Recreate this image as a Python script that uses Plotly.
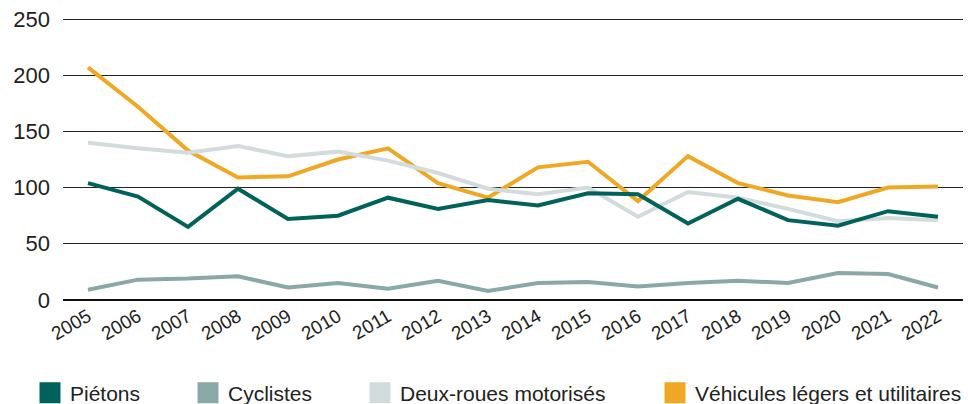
import plotly.graph_objects as go

years = [str(y) for y in range(2005, 2023)]
pietons = [104, 92, 65, 99, 72, 75, 91, 81, 89, 84, 95, 94, 68, 90, 71, 66, 79, 74]
cyclistes = [9, 18, 19, 21, 11, 15, 10, 17, 8, 15, 16, 12, 15, 17, 15, 24, 23, 11]
deux_roues = [140, 135, 131, 137, 128, 132, 124, 113, 99, 94, 100, 74, 96, 91, 81, 70, 73, 71]
vehicules = [207, 172, 133, 109, 110, 125, 135, 104, 91, 118, 123, 88, 128, 104, 93, 87, 100, 101]

series = [
    ("Piétons", pietons, "#00625A"),
    ("Cyclistes", cyclistes, "#8AA8A6"),
    ("Deux-roues motorisés", deux_roues, "#D2DCDC"),
    ("Véhicules légers et utilitaires", vehicules, "#F0A824"),
]
# left edge (px) of each legend entry
legend_left = [30, 188, 360, 655]
y_ticks = [0, 50, 100, 150, 200, 250]

FONT = "Arial, Liberation Sans, sans-serif"

fig = go.Figure()
# lines: last series at the bottom, pedestrians on top
for name, vals, color in reversed(series):
    fig.add_trace(go.Scatter(
        x=years, y=vals, mode="lines", name=name, showlegend=False,
        line=dict(color=color, width=4), hoverinfo="x+y+name",
    ))

# one single-entry legend per series, each with a square swatch
layout_legends = {}
for i, (name, vals, color) in enumerate(series):
    key = "legend" if i == 0 else f"legend{i + 1}"
    fig.add_trace(go.Scatter(
        x=[None], y=[None], mode="markers", name=name, legend=key,
        marker=dict(symbol="square", size=16, color=color,
                    line=dict(color=color, width=5)),
    ))
    layout_legends[key] = dict(
        x=legend_left[i] / 968, xref="container", xanchor="left",
        y=(404 - 393) / 404, yref="container", yanchor="middle",
        orientation="h", bgcolor="rgba(0,0,0,0)",
        font=dict(family=FONT, size=21, color="#222"),
    )

fig.update_layout(
    width=968, height=404,
    margin=dict(l=63, r=5, t=18, b=103),
    paper_bgcolor="white", plot_bgcolor="white",
    font=dict(family=FONT, color="#222"),
    **layout_legends,
)
fig.update_xaxes(
    type="category", range=[-0.5, 17.5], tickangle=-30,
    tickfont=dict(size=19, color="#222"), showgrid=False, showline=False,
    ticks="", zeroline=False,
)
fig.update_yaxes(
    range=[-1, 251], tickvals=y_ticks, tickfont=dict(size=22, color="#222"),
    showgrid=True, gridcolor="#222", gridwidth=1, zeroline=True,
    zerolinecolor="#111", zerolinewidth=1.5, ticks="", ticklabelstandoff=12,
)

fig.write_html("out.html")
